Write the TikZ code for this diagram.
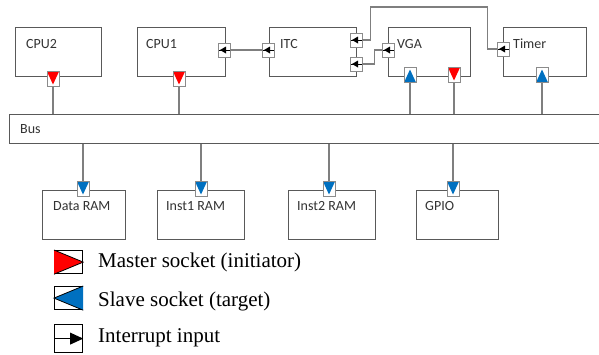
\documentclass[tikz,border=0pt]{standalone}
\usepackage{fontspec}
\newfontfamily\lblfont{Carlito}
\newfontfamily\legfont{Liberation Serif}
\definecolor{boxline}{HTML}{595959}
\definecolor{wire}{HTML}{7F7F7F}
\definecolor{mastercol}{HTML}{FF0000}
\definecolor{slavecol}{HTML}{0070C0}
\tikzset{
  block/.style={draw=boxline, line width=1pt, fill=white, inner sep=0pt,
                anchor=north west, minimum height=49},
  lbl/.style={font=\lblfont\fontsize{14}{16}\selectfont, text=black!80,
              anchor=base west, inner sep=0pt},
  wireline/.style={draw=wire, line width=1.2pt},
  sock/.style={draw=boxline!70, line width=0.8pt, fill=white, inner sep=0pt,
               minimum width=12, minimum height=15},
  msock/.style={sock, path picture={\fill[mastercol]
      (path picture bounding box.north west) -- (path picture bounding box.north east)
      -- ([yshift=2]path picture bounding box.south) -- cycle;}},
  sdsock/.style={sock, path picture={\fill[slavecol]
      (path picture bounding box.north west) -- (path picture bounding box.north east)
      -- ([yshift=2]path picture bounding box.south) -- cycle;}},
  susock/.style={sock, path picture={\fill[slavecol]
      (path picture bounding box.south west) -- (path picture bounding box.south east)
      -- ([yshift=-2]path picture bounding box.north) -- cycle;}},
  isock/.style={sock, minimum height=14, path picture={
      \draw[black, line width=0.6pt] (path picture bounding box.west) -- (path picture bounding box.east);
      \fill[black] ([xshift=2]path picture bounding box.west) -- ([xshift=8,yshift=3.5]path picture bounding box.west)
      -- ([xshift=8,yshift=-3.5]path picture bounding box.west) -- cycle;}},
  legbox/.style={draw=black, line width=1.2pt, inner sep=0pt, minimum width=28, minimum height=23},
  legtext/.style={font=\legfont\fontsize{21}{24}\selectfont, anchor=base west, inner sep=0pt},
}
\begin{document}
\begin{tikzpicture}[x=1pt, y=-1pt]
  \useasboundingbox (0,0) rectangle (599,354);
  % blocks
  \node[block, minimum width=86] (cpu2) at (15,27) {};
  \node[block, minimum width=88] (cpu1) at (137,27) {};
  \node[block, minimum width=87] (itc) at (269,27) {};
  \node[block, minimum width=82] (vga) at (388,27) {};
  \node[block, minimum width=83] (timer) at (503,27) {};
  \node[block, minimum width=600, minimum height=29] (bus) at (9,114) {};
  \node[block, minimum width=83] (dram) at (42,190) {};
  \node[block, minimum width=87] (i1ram) at (157,190) {};
  \node[block, minimum width=87] (i2ram) at (288,190) {};
  \node[block, minimum width=82] (gpio) at (416,190) {};
  \node[lbl] at ([shift={(11,21)}]cpu2.north west) {CPU2};
  \node[lbl] at ([shift={(9,21)}]cpu1.north west) {CPU1};
  \node[lbl] at ([shift={(11,21)}]itc.north west) {ITC};
  \node[lbl] at ([shift={(9,21)}]vga.north west) {VGA};
  \node[lbl] at ([shift={(10,21)}]timer.north west) {Timer};
  \node[lbl] at ([shift={(11,19)}]bus.north west) {Bus};
  \node[lbl] at ([shift={(11,20)}]dram.north west) {Data RAM};
  \node[lbl] at ([shift={(9,20)}]i1ram.north west) {Inst1 RAM};
  \node[lbl] at ([shift={(9,20)}]i2ram.north west) {Inst2 RAM};
  \node[lbl] at ([shift={(9,20)}]gpio.north west) {GPIO};
  % sockets
  \coordinate (m2c) at (53,79);
  \coordinate (m1c) at (179,79);
  \coordinate (vsc) at (410,75);
  \coordinate (vmc) at (454,75);
  \coordinate (tsc) at (542,75);
  \draw[wireline] (m2c) -- (m2c |- bus.north);
  \draw[wireline] (m1c) -- (m1c |- bus.north);
  \draw[wireline] (vsc) -- (vsc |- bus.north);
  \draw[wireline] (vmc) -- (vmc |- bus.north);
  \draw[wireline] (tsc) -- (tsc |- bus.north);
  \node[msock] (m2) at (m2c) {};
  \node[msock] (m1) at (m1c) {};
  \node[susock] (vs) at (vsc) {};
  \node[msock] (vm) at (vmc) {};
  \node[susock] (ts) at (tsc) {};
  \node[sdsock] (s0) at (83,189) {};
  \node[sdsock] (s1) at (201,189) {};
  \node[sdsock] (s2) at (329,189) {};
  \node[sdsock] (s3) at (453,189) {};
  \foreach \s in {s0,s1,s2,s3}
    \draw[wireline] (\s.north |- bus.south) -- (\s.north);
  % interrupts
  \node[isock] (cpui) at (224,50) {};
  \node[isock] (itci0) at (268,50) {};
  \node[isock] (itci1) at (356,40) {};
  \node[isock] (itci2) at (356,64) {};
  \node[isock] (vgai) at (388,50) {};
  \node[isock] (timeri) at (503,49) {};
  \draw[wireline] (itci0.west) -- (cpui.east);
  \draw[wireline] (itci1.east) -- ++(8,0) -- ++(0,-33) -| ([xshift=-9]timeri.west) -- (timeri.west);
  \draw[wireline] (itci2.east) -- ++(12,0) |- (vgai.west);
  % legend
  \node[legbox, anchor=north west] (lm) at (54,250) {};
  \filldraw[fill=mastercol, draw=black, line width=0.8pt] (lm.north west) -- (lm.east) -- (lm.south west);
  \node[legbox, anchor=north west] (ls) at (54,286) {};
  \filldraw[fill=slavecol, draw=black, line width=0.8pt] (ls.north east) -- (ls.west) -- (ls.south east);
  \node[legbox, anchor=north west, minimum height=28] (li) at (54,324) {};
  \draw[black, line width=1.2pt] (li.west) -- ([xshift=-10]li.east);
  \fill[black] (li.east) -- ([shift={(-13,-6)}]li.east) -- ([shift={(-13,6)}]li.east) -- cycle;
  \node[legtext] at (98,267) {Master socket (initiator)};
  \node[legtext] at (98,306) {Slave socket (target)};
  \node[legtext] at (98,342) {Interrupt input};
\end{tikzpicture}
\end{document}
